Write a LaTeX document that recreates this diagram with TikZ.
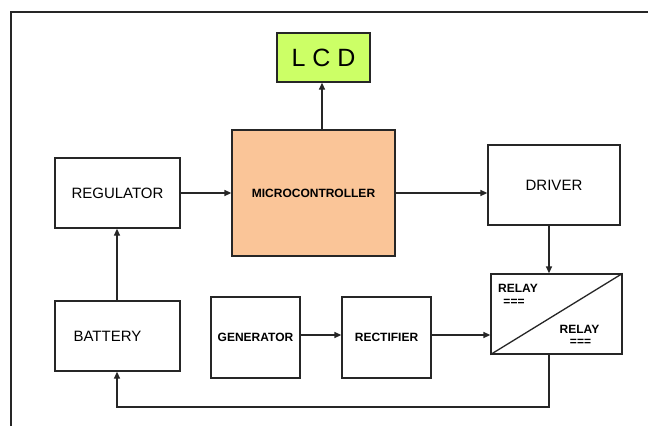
\documentclass[tikz,border=0pt]{standalone}
\usepackage{fontspec}
\setmainfont{Liberation Sans}
\usetikzlibrary{arrows.meta}
\definecolor{mcufill}{HTML}{FAC598}
\definecolor{lcdfill}{HTML}{CCFF66}
\tikzset{
  blk/.style={draw=black!85, line width=1.3pt, rectangle, inner sep=0pt, fill=white},
  reg/.style={font=\fontsize{15}{18}\selectfont},
  bld/.style={font=\fontsize{12}{14}\selectfont\bfseries},
  arr/.style={draw=black!85, line width=1.3pt, -{Triangle[length=7pt,width=6pt]}},
  ln/.style={draw=black!85, line width=1.3pt},
}
\begin{document}
\begin{tikzpicture}[x=1pt,y=-1pt]
\useasboundingbox (0,0) rectangle (648,426);
% frame
\draw[ln] (11,426) -- (11,12) -- (648,12);
% blocks
\node[blk, fill=lcdfill, minimum width=93pt, minimum height=49pt, font=\fontsize{25}{28}\selectfont] (lcd) at (323.5,57.5) {L C D};
\node[blk, fill=mcufill, minimum width=163pt, minimum height=126pt, bld] (mcu) at (313.5,193) {MICROCONTROLLER};
\node[blk, minimum width=125pt, minimum height=70pt, reg] (regu) at (117.5,193) {REGULATOR};
\node[blk, minimum width=125pt, minimum height=70pt] (bat) at (117.5,336) {};
\node[reg, anchor=west] (battxt) at (70,336) {BATTERY};
\node[blk, minimum width=132pt, minimum height=80pt, reg] (drv) at (554,185) {DRIVER};
\node[blk, minimum width=89pt, minimum height=81pt, bld] (gen) at (255.5,337.5) {GENERATOR};
\node[blk, minimum width=89pt, minimum height=81pt, bld] (rec) at (386.5,337.5) {RECTIFIER};
\node[blk, minimum width=131pt, minimum height=80pt] (rel) at (556.5,314) {};
\draw[ln] (rel.south west) -- (rel.north east);
\node[bld] (r1) at (518,288) {RELAY};
\node[bld] (e1) at (514,302) {===};
\node[bld] (r2) at (579.5,329) {RELAY};
\node[bld] (e2) at (580.5,342) {===};
% connectors
\coordinate (lx) at ([xshift=-1.5pt]lcd.south);
\draw[arr] (lx |- mcu.north) -- (lx);
\coordinate (bx) at ([xshift=-0.5pt]bat.north);
\draw[arr] (bx) -- (bx |- regu.south);
\draw[arr] (regu.east) -- (regu.east -| mcu.west);
\draw[arr] (mcu.east |- regu.east) -- (drv.west |- regu.east);
\coordinate (dx) at ([xshift=-5pt]drv.south);
\draw[arr] (dx) -- (dx |- rel.north);
\draw[arr] (gen.east |- 0,335) -- (rec.west |- 0,335);
\draw[arr] (rec.east |- 0,335) -- (rel.west |- 0,335);
\coordinate (fb) at (dx |- 0,407);
\draw[arr] (dx |- rel.south) -- (fb) -- (fb -| bx) -- (bx |- bat.south);
\end{tikzpicture}
\end{document}
